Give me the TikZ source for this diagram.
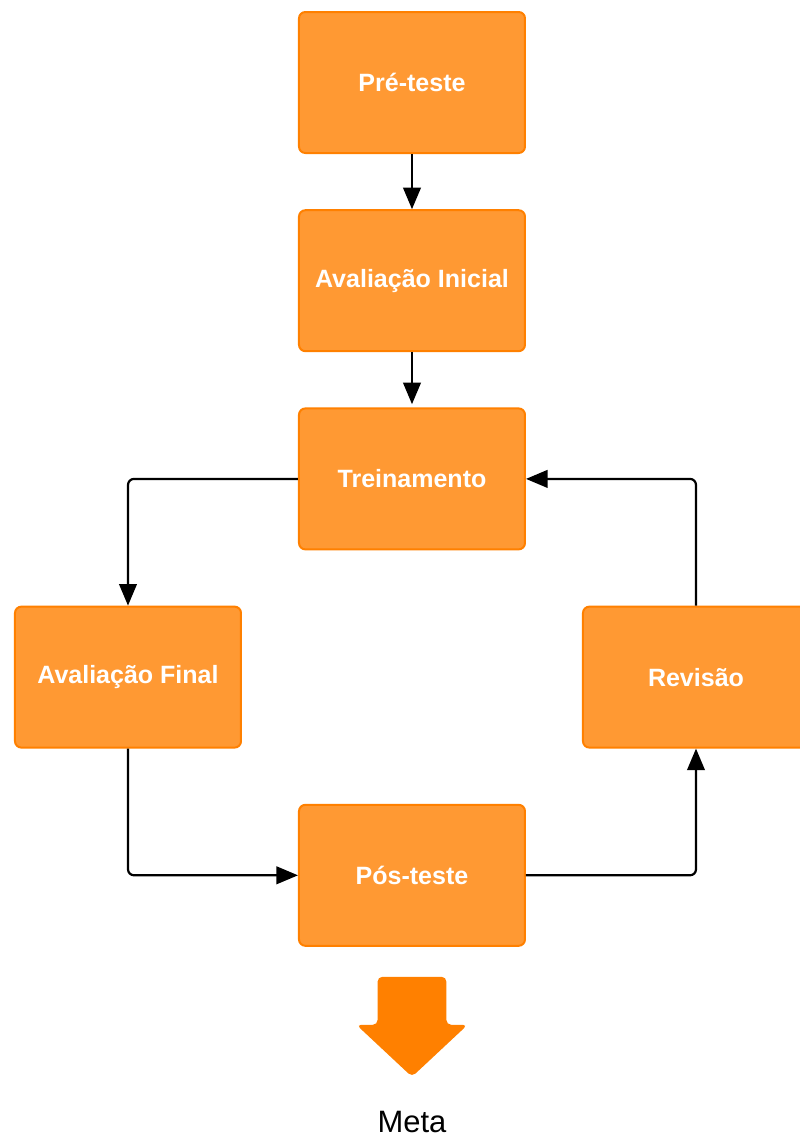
\documentclass[tikz,border=0pt]{standalone}
\usepackage{fontspec}
\setmainfont{Liberation Sans}
\usepackage{xcolor}
\usepackage{tikz}
\usetikzlibrary{arrows.meta,positioning,calc}

\definecolor{boxfill}{HTML}{FF9933}
\definecolor{boxline}{HTML}{FF8000}

\begin{document}
\begin{tikzpicture}[
      block/.style={
        rectangle,
        draw=boxline,
        line width=0.05cm,
        fill=boxfill,
        text=white,
        font=\bfseries\fontsize{17.8pt}{21pt}\selectfont,
        minimum width=5.65cm,
        minimum height=3.525cm,
        rounded corners=0.16cm
      },
      arrow/.style={-{Triangle[length=0.54cm,width=0.44cm]},line width=0.055cm,rounded corners=0.15cm},
      goal/.style={fill=boxline,rounded corners=0.12cm}
    ]
    \useasboundingbox (-10.3,2.0625) rectangle (9.7,-26.3625);

    % Main column
    \node[block] (pre) at (0,0) {Pré-teste};
    \node[block,below=1.38cm of pre] (inicial) {Avaliação Inicial};
    \node[block,below=1.38cm of inicial] (treino) {Treinamento};

    % Loop
    \node[block,below left=1.38cm and 1.4cm of treino] (final) {Avaliação Final};
    \node[block,below right=1.38cm and 1.4cm of treino] (revisao) {Revisão};
    \node[block,below right=1.38cm and 1.4cm of final] (pos) {Pós-teste};

    \draw[arrow] (pre) -- (inicial);
    \draw[arrow,shorten >=0.08cm] (inicial) -- (treino);
    \draw[arrow] (treino.west) -| (final.north);
    \draw[arrow] (final.south) |- (pos.west);
    \draw[arrow] (pos.east) -| (revisao.south);
    \draw[arrow] (revisao.north) |- (treino.east);

    % Goal arrow
    \coordinate (tail) at ($(pos.south)+(0,-0.75)$);
    \fill[goal] (tail) ++(-0.86,0) -- ++(0,-1.2) -- ++(-0.53,0) -- ++(1.39,-1.3)
      -- ++(1.39,1.3) -- ++(-0.53,0) -- ++(0,1.2) -- cycle;
    \node[anchor=base,font=\fontsize{22pt}{26pt}\selectfont,inner sep=0pt] (meta) at ($(tail)+(0,-3.88)$) {Meta};
  \end{tikzpicture}
\end{document}
